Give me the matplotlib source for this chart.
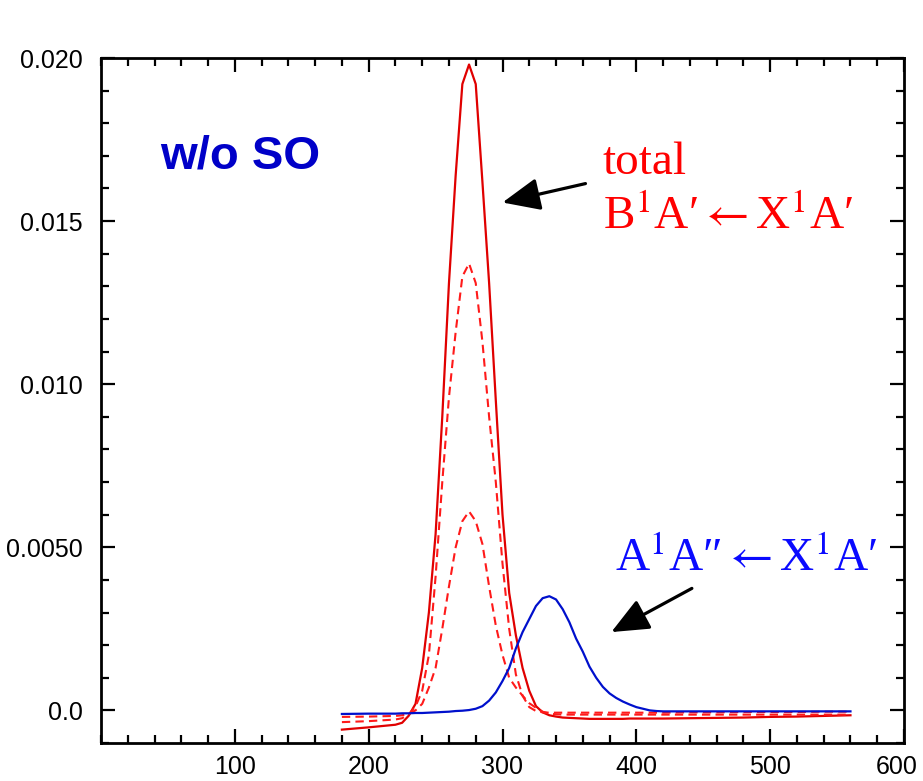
import matplotlib
matplotlib.use("Agg")
import matplotlib.pyplot as plt
from matplotlib.ticker import MultipleLocator, FixedLocator, FuncFormatter
from matplotlib.patches import FancyArrowPatch
from matplotlib.transforms import ScaledTranslation

plt.rcParams["mathtext.fontset"] = "stix"

# Photon energy grid (nm) shared by all spectra
wavelength = [180, 200, 220, 225, 230, 235, 240, 245, 250, 255, 260, 265, 270,
              275, 280, 285, 290, 295, 300, 305, 310, 315, 320, 325, 330, 335,
              340, 345, 350, 355, 360, 365, 370, 375, 380, 385, 390, 395, 400,
              405, 410, 415, 420, 440, 460, 480, 500, 520, 540, 560]

# B1A' <- X1A' total cross section
total_B = [-0.00059, -0.00052, -0.00044, -0.00038, -0.00016, 0.00020, 0.0013,
           0.0030, 0.0054, 0.0090, 0.0131, 0.0164, 0.0192, 0.0198, 0.0192,
           0.0162, 0.0131, 0.0095, 0.0060, 0.0036, 0.0023, 0.0013, 0.0006,
           0.00013, -0.00006, -0.00015, -0.00019, -0.00022, -0.00023,
           -0.00024, -0.00025, -0.00026, -0.00026, -0.00026, -0.00026,
           -0.00026, -0.00026, -0.00025, -0.00025, -0.00025, -0.00025,
           -0.00025, -0.00025, -0.00024, -0.00023, -0.00022, -0.00020,
           -0.00019, -0.00017, -0.00015]

# Larger component of the B state band
comp_B1 = [-0.00036, -0.00033, -0.00028, -0.00024, -0.00012, 0.00012, 0.0006,
           0.0017, 0.0041, 0.0070, 0.0096, 0.0116, 0.0133, 0.0137, 0.0131,
           0.0113, 0.0090, 0.0070, 0.0045, 0.0025, 0.0011, 0.00045, 0.00010,
           -0.00002, -0.00006, -0.00007, -0.00007, -0.00007, -0.00007,
           -0.00007, -0.00007, -0.00007, -0.00007, -0.00007, -0.00007,
           -0.00007, -0.00007, -0.00007, -0.00007, -0.00007, -0.00007,
           -0.00007, -0.00007, -0.00006, -0.00006, -0.00005, -0.00005,
           -0.00005, -0.00004, -0.00004]

# Smaller component of the B state band
comp_B2 = [-0.00020, -0.00019, -0.00017, -0.00015, -0.00010, 0.00000, 0.00020,
           0.0007, 0.0013, 0.0025, 0.0038, 0.0050, 0.0058, 0.0061, 0.0058,
           0.0051, 0.0038, 0.0026, 0.0017, 0.0010, 0.0007, 0.00045, 0.00022,
           0.00008, -0.00004, -0.00010, -0.00012, -0.00013, -0.00013,
           -0.00013, -0.00013, -0.00013, -0.00013, -0.00013, -0.00013,
           -0.00013, -0.00013, -0.00013, -0.00013, -0.00013, -0.00013,
           -0.00013, -0.00013, -0.00013, -0.00013, -0.00013, -0.00013,
           -0.00013, -0.00013, -0.00013]

# A1A" <- X1A' band
band_A = [-0.00011, -0.00010, -0.00010, -0.00009, -0.00009, -0.00008,
          -0.00008, -0.00007, -0.00006, -0.00005, -0.00004, -0.00002,
          -0.00001, 0.00001, 0.00005, 0.00013, 0.00030, 0.00055, 0.0009,
          0.0013, 0.0019, 0.0024, 0.0028, 0.0032, 0.00344, 0.0035, 0.0034,
          0.0031, 0.0027, 0.0022, 0.0018, 0.00134, 0.0010, 0.00072, 0.00052,
          0.00038, 0.00027, 0.00018, 0.00010, 0.00005, 0.0, -0.00002,
          -0.00003, -0.00003, -0.00003, -0.00003, -0.00003, -0.00003,
          -0.00003, -0.00003]

x_ticks = [100, 200, 300, 400, 500, 600]
y_ticks = [0.0, 0.005, 0.010, 0.015, 0.020]
y_tick_labels = ["0.0", "0.0050", "0.010", "0.015", "0.020"]

RED_LINE = "#e00000"
RED_DASH = "#ff1a1a"
BLUE_LINE = "#0010cc"

fig = plt.figure(figsize=(9.23, 7.81), dpi=100)
ax = fig.add_axes([101 / 923, 1 - 743 / 781, (904 - 101) / 923, (743 - 58) / 781])

dash = (0, (4, 2.5))
ax.plot(wavelength, total_B, color=RED_LINE, lw=1.6)
ax.plot(wavelength, comp_B1, color=RED_DASH, lw=1.5, linestyle=dash)
ax.plot(wavelength, comp_B2, color=RED_DASH, lw=1.5, linestyle=dash)
ax.plot(wavelength, band_A, color=BLUE_LINE, lw=1.6)

ax.set_xlim(0, 600)
ax.set_ylim(-0.001, 0.020)

ax.xaxis.set_major_locator(FixedLocator(x_ticks))
ax.xaxis.set_minor_locator(MultipleLocator(20))
ax.yaxis.set_major_locator(FixedLocator(y_ticks))
ax.yaxis.set_minor_locator(MultipleLocator(0.001))
ax.set_yticklabels(y_tick_labels)
ax.xaxis.set_major_formatter(FuncFormatter(lambda v, p: f"{int(v)}"))

for side in ax.spines.values():
    side.set_linewidth(2.0)
ax.tick_params(which="both", direction="in", top=True, right=True, width=1.6)
ax.tick_params(which="major", length=10, labelsize=18)
ax.tick_params(axis="x", which="major", pad=9)
ax.tick_params(axis="y", which="major", pad=13)
ax.tick_params(which="minor", length=6)
for lab in ax.get_xticklabels() + ax.get_yticklabels():
    lab.set_fontfamily(["Liberation Sans", "DejaVu Sans"])
# keep the last x label inside the canvas
last = ax.get_xticklabels()[-1]
last.set_transform(last.get_transform() + ScaledTranslation(-5 / 72, 0, fig.dpi_scale_trans))

serif = ["Liberation Serif", "DejaVu Serif"]
ax.text(44.5, 0.0166, "w/o SO", color="#0000c8", fontsize=34,
        fontweight="bold", family=["Liberation Sans", "DejaVu Sans"],
        ha="left", va="baseline")
ax.text(375, 0.01645, "total", color="#ff0000", fontsize=34, family=serif,
        ha="left", va="baseline")
ax.text(375, 0.01475, "B$^{1}$A\u2032$\\leftarrow$X$^{1}$A\u2032",
        color="#ff0000", fontsize=34, family=serif, ha="left", va="baseline")
ax.text(384, 0.00428, "A$^{1}$A\u2033$\\leftarrow$X$^{1}$A\u2032",
        color="#0a0aff", fontsize=34, family=serif, ha="left", va="baseline")

for tail, head in [((362, 0.01615), (300, 0.01557)),
                   ((441.5, 0.00374), (381.3, 0.00240))]:
    arr = FancyArrowPatch(tail, head, arrowstyle="-|>,head_length=1.15,head_width=0.5",
                          mutation_scale=20, color="black", lw=2.3,
                          shrinkA=0, shrinkB=0)
    ax.add_patch(arr)

fig.savefig("out.png", dpi=100)
